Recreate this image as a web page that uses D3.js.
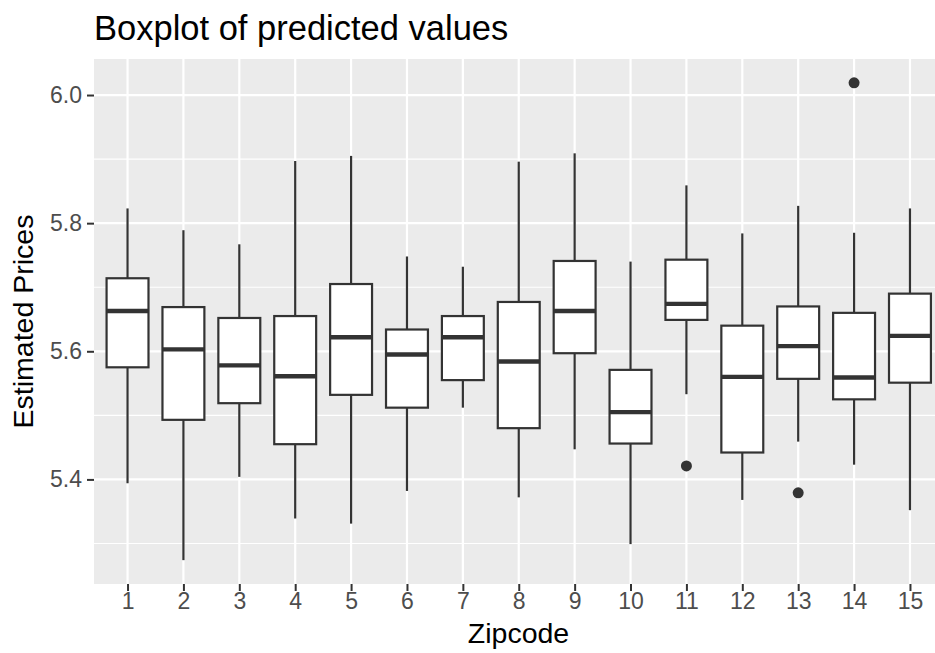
<!DOCTYPE html>
<html>
<head>
<meta charset="utf-8">
<script src="https://cdn.jsdelivr.net/npm/d3@7"></script>
<style>
  body { margin: 0; background: #fff; }
  svg { display: block; font-family: "Liberation Sans", Arial, sans-serif; }
</style>
</head>
<body>
<svg id="chart"></svg>
<script>
// Boxplot stats, one entry per zipcode
const zipcodes = ["1","2","3","4","5","6","7","8","9","10","11","12","13","14","15"];
const whiskerLow  = [5.394, 5.274, 5.404, 5.339, 5.331, 5.382, 5.512, 5.372, 5.447, 5.299, 5.533, 5.368, 5.459, 5.423, 5.352];
const q1          = [5.575, 5.493, 5.519, 5.455, 5.532, 5.512, 5.555, 5.480, 5.597, 5.456, 5.649, 5.442, 5.557, 5.525, 5.551];
const medians     = [5.663, 5.603, 5.578, 5.561, 5.622, 5.595, 5.622, 5.584, 5.663, 5.505, 5.674, 5.560, 5.608, 5.559, 5.624];
const q3          = [5.714, 5.669, 5.652, 5.655, 5.705, 5.634, 5.655, 5.677, 5.741, 5.571, 5.743, 5.640, 5.670, 5.660, 5.690];
const whiskerHigh = [5.823, 5.789, 5.767, 5.897, 5.905, 5.748, 5.732, 5.896, 5.909, 5.740, 5.859, 5.784, 5.827, 5.785, 5.823];
const outliers = [
  { zip: "11", value: 5.421 },
  { zip: "13", value: 5.379 },
  { zip: "14", value: 6.019 }
];
const yTicks = [5.4, 5.6, 5.8, 6.0];
const yMinor = [5.3, 5.5, 5.7, 5.9];

const W = 935, H = 653;
const margin = { top: 59, right: -8.5, bottom: 69, left: 94 };
const width = W - margin.left - margin.right;
const height = H - margin.top - margin.bottom;

const svg = d3.select("#chart").attr("width", W).attr("height", H);

const boxes = zipcodes.map((z, i) => ({
  zip: z, lo: whiskerLow[i], q1: q1[i], med: medians[i], q3: q3[i], hi: whiskerHigh[i]
}));

// ggplot style 5% expansion on the data range
const allVals = whiskerLow.concat(whiskerHigh, outliers.map(d => d.value));
const [vmin, vmax] = d3.extent(allVals);
const pad = (vmax - vmin) * 0.05;

const x = d3.scalePoint().domain(zipcodes).range([0, width]).padding(0.6);
const y = d3.scaleLinear().domain([vmin - pad, vmax + pad]).range([height, 0]);
const boxW = x.step() * 0.75;

const g = svg.append("g").attr("transform", `translate(${margin.left},${margin.top})`);

// panel background + grid
g.append("rect").attr("width", width).attr("height", height).attr("fill", "#EBEBEB");

g.append("g").selectAll("line").data(yMinor).join("line")
  .attr("x1", 0).attr("x2", width)
  .attr("y1", d => y(d)).attr("y2", d => y(d))
  .attr("stroke", "#fff").attr("stroke-width", 1.1);

g.append("g").selectAll("line").data(yTicks).join("line")
  .attr("x1", 0).attr("x2", width)
  .attr("y1", d => y(d)).attr("y2", d => y(d))
  .attr("stroke", "#fff").attr("stroke-width", 2.2);

g.append("g").selectAll("line").data(zipcodes).join("line")
  .attr("x1", d => x(d)).attr("x2", d => x(d))
  .attr("y1", 0).attr("y2", height)
  .attr("stroke", "#fff").attr("stroke-width", 2.2);

// boxes
const bx = g.append("g").selectAll("g").data(boxes).join("g");

bx.append("line")
  .attr("x1", d => x(d.zip)).attr("x2", d => x(d.zip))
  .attr("y1", d => y(d.hi)).attr("y2", d => y(d.q3))
  .attr("stroke", "#333").attr("stroke-width", 2.2);
bx.append("line")
  .attr("x1", d => x(d.zip)).attr("x2", d => x(d.zip))
  .attr("y1", d => y(d.q1)).attr("y2", d => y(d.lo))
  .attr("stroke", "#333").attr("stroke-width", 2.2);
bx.append("rect")
  .attr("x", d => x(d.zip) - boxW / 2)
  .attr("width", boxW)
  .attr("y", d => y(d.q3))
  .attr("height", d => y(d.q1) - y(d.q3))
  .attr("fill", "#fff").attr("stroke", "#333").attr("stroke-width", 2.2);
bx.append("line")
  .attr("x1", d => x(d.zip) - boxW / 2).attr("x2", d => x(d.zip) + boxW / 2)
  .attr("y1", d => y(d.med)).attr("y2", d => y(d.med))
  .attr("stroke", "#333").attr("stroke-width", 4.4);

g.append("g").selectAll("circle").data(outliers).join("circle")
  .attr("cx", d => x(d.zip)).attr("cy", d => y(d.value))
  .attr("r", 5.5).attr("fill", "#333");

// axes
const xAxis = g.append("g").attr("transform", `translate(0,${height})`)
  .call(d3.axisBottom(x).tickSize(7).tickPadding(1));
const yAxis = g.append("g")
  .call(d3.axisLeft(y).tickValues(yTicks).tickFormat(d3.format(".1f")).tickSize(7).tickPadding(5));

[xAxis, yAxis].forEach(a => {
  a.select(".domain").remove();
  a.selectAll(".tick line").attr("stroke", "#333").attr("stroke-width", 2);
  a.selectAll(".tick text").attr("fill", "#4D4D4D").attr("font-size", 23)
    .attr("font-family", "Liberation Sans, Arial, sans-serif");
});
xAxis.selectAll(".tick text").attr("dy", "0.72em");

// titles
svg.append("text").attr("x", margin.left).attr("y", 40)
  .attr("font-size", 34.5).attr("fill", "#000").text("Boxplot of predicted values");

svg.append("text").attr("x", margin.left + (W - margin.left) / 2 + 4).attr("y", 643)
  .attr("text-anchor", "middle").attr("font-size", 28.5).attr("fill", "#000").text("Zipcode");

svg.append("text")
  .attr("transform", `translate(33,${margin.top + height / 2}) rotate(-90)`)
  .attr("text-anchor", "middle").attr("font-size", 28.5).attr("fill", "#000").text("Estimated Prices");
</script>
</body>
</html>
